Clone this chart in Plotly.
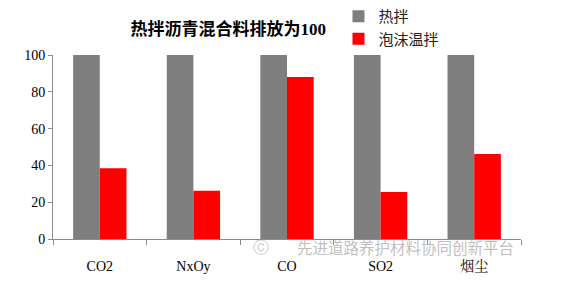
import plotly.graph_objects as go

categories = ["CO2", "NxOy", "CO", "SO2", "烟尘"]
hot_mix = [100, 100, 100, 100, 100]
foam_warm = [38.5, 26.2, 88, 25.5, 46.2]
series_names = ["热拌", "泡沫温拌"]
y_ticks = [0, 20, 40, 60, 80, 100]

fig = go.Figure()
fig.add_trace(go.Bar(x=categories, y=hot_mix, name=series_names[0],
                     marker=dict(color="#807f80", line=dict(width=0))))
fig.add_trace(go.Bar(x=categories, y=foam_warm, name=series_names[1],
                     marker=dict(color="#ff0000", line=dict(width=0))))

serif = "Liberation Serif, Times New Roman, serif"
fig.update_layout(
    width=581, height=291,
    margin=dict(l=53, r=60, t=55, b=52, autoexpand=False),
    paper_bgcolor="white", plot_bgcolor="white",
    barmode="group", bargap=0.43, bargroupgap=0,
    title=dict(text="<b>热拌沥青混合料排放为<span style='font-family:Liberation Serif'>100</span></b>",
               x=0.393, xanchor="center", y=0.9, yanchor="middle",
               font=dict(family="Noto Sans CJK SC, " + serif, size=17, color="#000")),
    legend=dict(x=0.61, xref="paper", y=1.0, yref="container", xanchor="left", yanchor="top",
                font=dict(family="Noto Sans CJK SC", size=15, color="#222"),
                itemwidth=30, tracegroupgap=0, bgcolor="rgba(0,0,0,0)"),
    showlegend=True,
)
fig.update_xaxes(showline=True, linecolor="#8c8c8c", linewidth=1,
                 ticks="outside", tickson="boundaries", ticklen=5, tickcolor="#8c8c8c",
                 ticklabelstandoff=14,
                 tickfont=dict(family=serif + ", Noto Serif CJK SC, Noto Sans CJK SC", size=14, color="#000"),
                 showgrid=False)
fig.update_yaxes(range=[0, 100], tickvals=y_ticks, showline=True, linecolor="#8c8c8c", linewidth=1,
                 ticks="outside", ticklen=4, tickcolor="#8c8c8c",
                 tickfont=dict(family=serif, size=14, color="#000"),
                 showgrid=False, zeroline=False)

fig.add_annotation(text="先进道路养护材料协同创新平台", xref="paper", yref="paper",
                   x=0.99, y=-0.045, xanchor="right", yanchor="middle", showarrow=False,
                   font=dict(family="Noto Sans CJK SC", size=15.5, color="rgba(170,170,170,0.75)"))
fig.add_annotation(text="ⓒ", xref="paper", yref="paper",
                   x=0.445, y=-0.045, xanchor="center", yanchor="middle", showarrow=False,
                   font=dict(family="DejaVu Sans", size=16, color="rgba(170,170,170,0.6)"))

fig.write_html("out.html")
